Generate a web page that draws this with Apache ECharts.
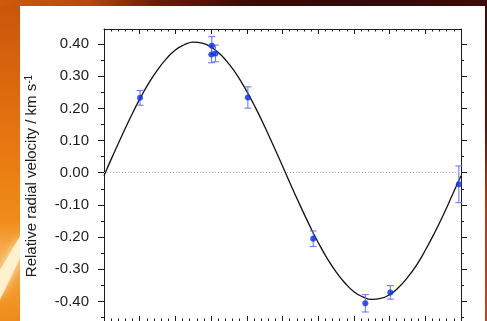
<!DOCTYPE html>
<html>
<head>
<meta charset="utf-8">
<style>
  html, body { margin: 0; padding: 0; background: #3a0a06; }
  #chart { width: 487px; height: 321px; }
</style>
<script src="https://cdn.jsdelivr.net/npm/echarts@6/dist/echarts.min.js"></script>
</head>
<body>
<div id="chart"></div>
<script>
// Orbital phase of each radial-velocity measurement
const obsPhase = [0.101, 0.302, 0.301, 0.312, 0.403, 0.586, 0.732, 0.802, 0.994];
// Measured relative radial velocity (km/s)
const obsVelocity = [0.233, 0.395, 0.368, 0.371, 0.234, -0.205, -0.406, -0.372, -0.036];
// One-sigma uncertainty of each measurement (km/s)
const obsError = [0.023, 0.028, 0.026, 0.026, 0.033, 0.024, 0.027, 0.021, 0.057];

// Fitted orbit, sampled every 0.025 in phase
const fitPhase = [0, 0.025, 0.05, 0.075, 0.10, 0.125, 0.15, 0.175, 0.20, 0.225,
                  0.25, 0.275, 0.30, 0.325, 0.35, 0.375, 0.40, 0.425, 0.45, 0.475,
                  0.50, 0.525, 0.55, 0.575, 0.60, 0.625, 0.65, 0.675, 0.70, 0.725,
                  0.75, 0.775, 0.80, 0.825, 0.85, 0.875, 0.90, 0.925, 0.95, 0.975, 1.00];
const fitVelocity = [-0.009, 0.054, 0.115, 0.174, 0.229, 0.278, 0.320, 0.355, 0.382, 0.398,
                     0.406, 0.403, 0.391, 0.369, 0.338, 0.300, 0.253, 0.201, 0.144, 0.083,
                     0.021, -0.042, -0.103, -0.162, -0.217, -0.266, -0.308, -0.343, -0.370, -0.386,
                     -0.394, -0.391, -0.379, -0.357, -0.326, -0.288, -0.241, -0.189, -0.132, -0.071, -0.009];

// Velocity axis ticks
const yMajorTicks = [-0.40, -0.30, -0.20, -0.10, 0.00, 0.10, 0.20, 0.30, 0.40];
const yMinorTicks = [-0.45, -0.35, -0.25, -0.15, -0.05, 0.05, 0.15, 0.25, 0.35, 0.45];

const yTitle = 'Relative radial velocity / km s';
const yTitleExp = '-1';

const Y_MIN = -0.461, Y_MAX = 0.447;
const FONT = '"Liberation Sans", Arial, Helvetica, sans-serif';
const INK = '#1c1c1c';

const chart = echarts.init(document.getElementById('chart'), null, { renderer: 'canvas' });

function yAxisDef(position, ticks, tickLen, withLine, withLabels) {
  return {
    type: 'value', position: position, min: Y_MIN, max: Y_MAX,
    axisLine: { show: withLine, onZero: false, lineStyle: { color: INK, width: 1 } },
    axisTick: { show: true, inside: false, length: tickLen, customValues: ticks,
                lineStyle: { color: INK, width: 1 } },
    axisLabel: withLabels ? {
      show: true, customValues: yMajorTicks, margin: 15,
      formatter: v => v.toFixed(2), color: INK, fontSize: 15, fontFamily: FONT
    } : { show: false },
    splitLine: { show: false }
  };
}

function xAxisDef(position) {
  return {
    type: 'value', position: position, min: 0, max: 1, interval: 0.1,
    axisLine: { show: true, onZero: false, lineStyle: { color: INK, width: 1 } },
    axisTick: { show: true, inside: true, length: 5, lineStyle: { color: INK, width: 1 } },
    minorTick: { show: true, splitNumber: 5, length: 2.5, lineStyle: { color: INK, width: 1 } },
    axisLabel: { show: false },
    splitLine: { show: false }
  };
}

const points = obsPhase.map((p, i) => [p, obsVelocity[i], obsError[i]]);
const fit = fitPhase.map((p, i) => [p, fitVelocity[i]]);

const option = {
  backgroundColor: 'transparent',
  animation: false,
  grid: { left: 104, right: 26, top: 29, bottom: -1, containLabel: false },
  xAxis: [xAxisDef('top'), xAxisDef('bottom')],
  yAxis: [
    yAxisDef('left', yMajorTicks, 6, true, true),
    yAxisDef('left', yMinorTicks, 3, false, false),
    yAxisDef('right', yMajorTicks, 6, true, false),
    yAxisDef('right', yMinorTicks, 3, false, false)
  ],
  graphic: [
    // fiery backdrop strips around the white panel
    { type: 'rect', z: -10, shape: { x: 0, y: 0, width: 487, height: 321 },
      style: { fill: new echarts.graphic.LinearGradient(0, 0, 1, 1, [
        { offset: 0, color: '#c4500a' }, { offset: 0.5, color: '#7a1e08' }, { offset: 1, color: '#b83a10' }]) } },
    { type: 'rect', z: -9, shape: { x: 0, y: 0, width: 487, height: 6 },
      style: { fill: new echarts.graphic.LinearGradient(0, 0, 1, 0, [
        { offset: 0, color: '#cf5a0c' }, { offset: 0.18, color: '#b9480a' },
        { offset: 0.32, color: '#6e1a08' }, { offset: 0.5, color: '#3c0c06' },
        { offset: 0.75, color: '#33090a' }, { offset: 1, color: '#3e0b08' }]) } },
    { type: 'rect', z: -9, shape: { x: 0, y: 6, width: 20, height: 315 },
      style: { fill: new echarts.graphic.LinearGradient(0, 0, 0, 1, [
        { offset: 0, color: '#c9560b' }, { offset: 0.25, color: '#db680d' },
        { offset: 0.5, color: '#ea7c12' }, { offset: 0.68, color: '#f08c18' },
        { offset: 0.8, color: '#f6b25a' }, { offset: 0.9, color: '#f29a2a' },
        { offset: 1, color: '#ee8a1c' }]) } },
    { type: 'polygon', z: -8,
      shape: { points: [[20, 236], [20, 258], [0, 300], [0, 270]] },
      style: { fill: '#fff0d0', shadowBlur: 8, shadowColor: '#ffe6b0' } },
    { type: 'rect', z: -9, shape: { x: 485, y: 6, width: 2, height: 315 },
      style: { fill: new echarts.graphic.LinearGradient(0, 0, 0, 1, [
        { offset: 0, color: '#3a0a08' }, { offset: 0.4, color: '#5e1408' },
        { offset: 0.6, color: '#b03a10' }, { offset: 1, color: '#c4481a' }]) } },
    // white panel behind the plot
    { type: 'rect', z: -5, shape: { x: 20, y: 6, width: 465, height: 315 },
      style: { fill: '#ffffff' } },
    // rotated axis title with superscript exponent
    { type: 'text', z: 10, x: 32, y: 176, rotation: Math.PI / 2,
      style: {
        text: yTitle + '{sup|' + yTitleExp + '}',
        font: '15px ' + FONT, fill: INK,
        align: 'center', verticalAlign: 'middle',
        rich: { sup: { fontSize: 10, fontFamily: FONT, fill: INK, verticalAlign: 'top' } }
      } }
  ],
  series: [
    {
      name: 'fit', type: 'line', xAxisIndex: 0, yAxisIndex: 0,
      data: fit, smooth: true, showSymbol: false, symbol: 'none',
      lineStyle: { color: '#111111', width: 1.3 }, z: 3,
      markLine: {
        silent: true, symbol: 'none', label: { show: false },
        lineStyle: { color: '#a8a8a8', type: [1, 2], width: 1 },
        data: [{ yAxis: 0 }]
      }
    },
    {
      name: 'errors', type: 'custom', xAxisIndex: 0, yAxisIndex: 0,
      data: points, z: 4,
      renderItem: function (params, api) {
        const x = api.value(0), y = api.value(1), e = api.value(2);
        const top = api.coord([x, y + e]);
        const bot = api.coord([x, y - e]);
        const hw = 3.5;
        const st = { stroke: '#5f70f0', lineWidth: 1 };
        return { type: 'group', children: [
          { type: 'line', shape: { x1: top[0], y1: top[1], x2: bot[0], y2: bot[1] }, style: st },
          { type: 'line', shape: { x1: top[0] - hw, y1: top[1], x2: top[0] + hw, y2: top[1] }, style: st },
          { type: 'line', shape: { x1: bot[0] - hw, y1: bot[1], x2: bot[0] + hw, y2: bot[1] }, style: st }
        ] };
      }
    },
    {
      name: 'observed', type: 'scatter', xAxisIndex: 0, yAxisIndex: 0,
      data: points, symbol: 'circle', symbolSize: 6, z: 5,
      itemStyle: { color: '#0a2ef0' }
    }
  ]
};

chart.setOption(option);
</script>
</body>
</html>
